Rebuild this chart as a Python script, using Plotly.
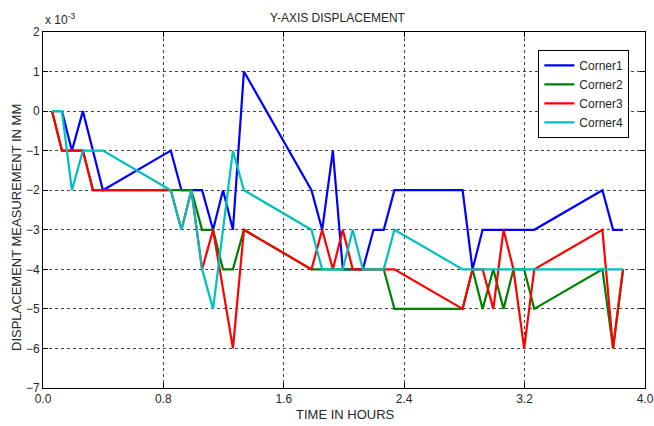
import plotly.graph_objects as go

# Sample times (hours)
time_hours = [0.060, 0.126, 0.192, 0.265, 0.332, 0.398, 0.849, 0.920, 0.986, 1.057,
              1.130, 1.196, 1.262, 1.335, 1.784, 1.855, 1.926, 1.992, 2.058, 2.125,
              2.196, 2.264, 2.335, 2.788, 2.854, 2.921, 2.992, 3.060, 3.126, 3.197,
              3.264, 3.717, 3.788, 3.854]

# Y-axis displacement per corner, in units of 1e-3 mm (None = no sample)
corner1 = [0, 0, -1, 0, -1, -2, -1, -2, -2, -2,
           -3, -2, -3, 1, -2, -3, -1, -4, -4, -4,
           -3, -3, -2, -2, -4, -3, -3, -3, -3, -3,
           -3, -2, -3, -3]
corner2 = [0, -1, -1, -1, -2, -2, -2, -2, -2, -3,
           -3, -4, -4, -3, -4, -4, -4, -4, -4, -4,
           -4, -4, -5, -5, -4, -5, -4, -5, -4, -4,
           -5, -4, -6, -4]
corner3 = [0, -1, -1, -1, -2, -2, -2, -3, -2, -4,
           -3, None, -6, -3, -4, -3, -4, -3, -4, -4,
           -4, -4, -4, -5, -4, -4, -5, -3, -4, -6,
           -4, -3, -6, -4]
corner4 = [0, 0, -2, -1, -1, -1, -2, -3, -2, -4,
           -5, -3, -1, -2, -3, -4, -4, -4, -3, -4,
           -4, -4, -3, -4, -4, -4, -4, -4, -4, -4,
           -4, -4, -4, -4]

series = [("Corner1", corner1, "#0000ff"),
          ("Corner2", corner2, "#008000"),
          ("Corner3", corner3, "#ff0000"),
          ("Corner4", corner4, "#00bfbf")]

x_ticks = [0.0, 0.8, 1.6, 2.4, 3.2, 4.0]
y_ticks = [2, 1, 0, -1, -2, -3, -4, -5, -6, -7]

FONT = "Liberation Sans, Arial, sans-serif"
TXT = "#262626"

fig = go.Figure()
for name, vals, color in series:
    fig.add_trace(go.Scatter(
        x=time_hours, y=vals, name=name, mode="lines",
        connectgaps=True,
        line=dict(color=color, width=2.2),
    ))

axis_common = dict(
    showline=True, linecolor="black", linewidth=1, mirror="ticks",
    ticks="inside", ticklen=5, tickcolor="black",
    showgrid=True, gridcolor="#444444", gridwidth=1, griddash="dot",
    zeroline=False, automargin=False,
    tickfont=dict(family=FONT, size=12, color=TXT),
)

fig.update_xaxes(range=[0, 4], tickvals=x_ticks, tickformat=".1f", **axis_common)
fig.update_yaxes(range=[-7, 2], tickvals=y_ticks, **axis_common)

# Plot area in pixels
plot_l, plot_r, plot_t, plot_b = 43, 645, 32, 388
W, H = 654, 426

fig.update_layout(
    width=W, height=H,
    margin=dict(l=plot_l, r=W - plot_r, t=plot_t, b=H - plot_b, autoexpand=False),
    paper_bgcolor="white", plot_bgcolor="white",
    showlegend=True,
    legend=dict(
        x=0.974, y=0.95, xanchor="right", yanchor="top",
        bgcolor="white", bordercolor="black", borderwidth=1,
        font=dict(family=FONT, size=12, color=TXT),
        tracegroupgap=0, itemwidth=30,
    ),
)

pw, ph = plot_r - plot_l, plot_b - plot_t


def px_to_paper(px, py):
    return (px - plot_l) / pw, (plot_b - py) / ph


tx, ty = px_to_paper(338, 18)
xx, xy = px_to_paper(345, 415)
yx, yy = px_to_paper(16, 228)
ex, ey = px_to_paper(43, 19)

fig.add_annotation(text="Y-AXIS DISPLACEMENT", x=tx, y=ty, xref="paper", yref="paper",
                   xanchor="center", yanchor="middle",
                   showarrow=False, font=dict(family=FONT, size=12, color=TXT))
fig.add_annotation(text="TIME IN HOURS", x=xx, y=xy, xref="paper", yref="paper",
                   xanchor="center", yanchor="middle",
                   showarrow=False, font=dict(family=FONT, size=13, color=TXT))
fig.add_annotation(text="DISPLACEMENT MEASUREMENT IN MM", x=yx, y=yy, xref="paper", yref="paper",
                   xanchor="center", yanchor="middle",
                   textangle=-90, showarrow=False, font=dict(family=FONT, size=13, color=TXT))
fig.add_annotation(text="x 10<sup>-3</sup>", x=ex, y=ey, xref="paper", yref="paper",
                   xanchor="left", yanchor="middle",
                   showarrow=False, font=dict(family=FONT, size=12, color=TXT))

fig.write_html("out.html")
